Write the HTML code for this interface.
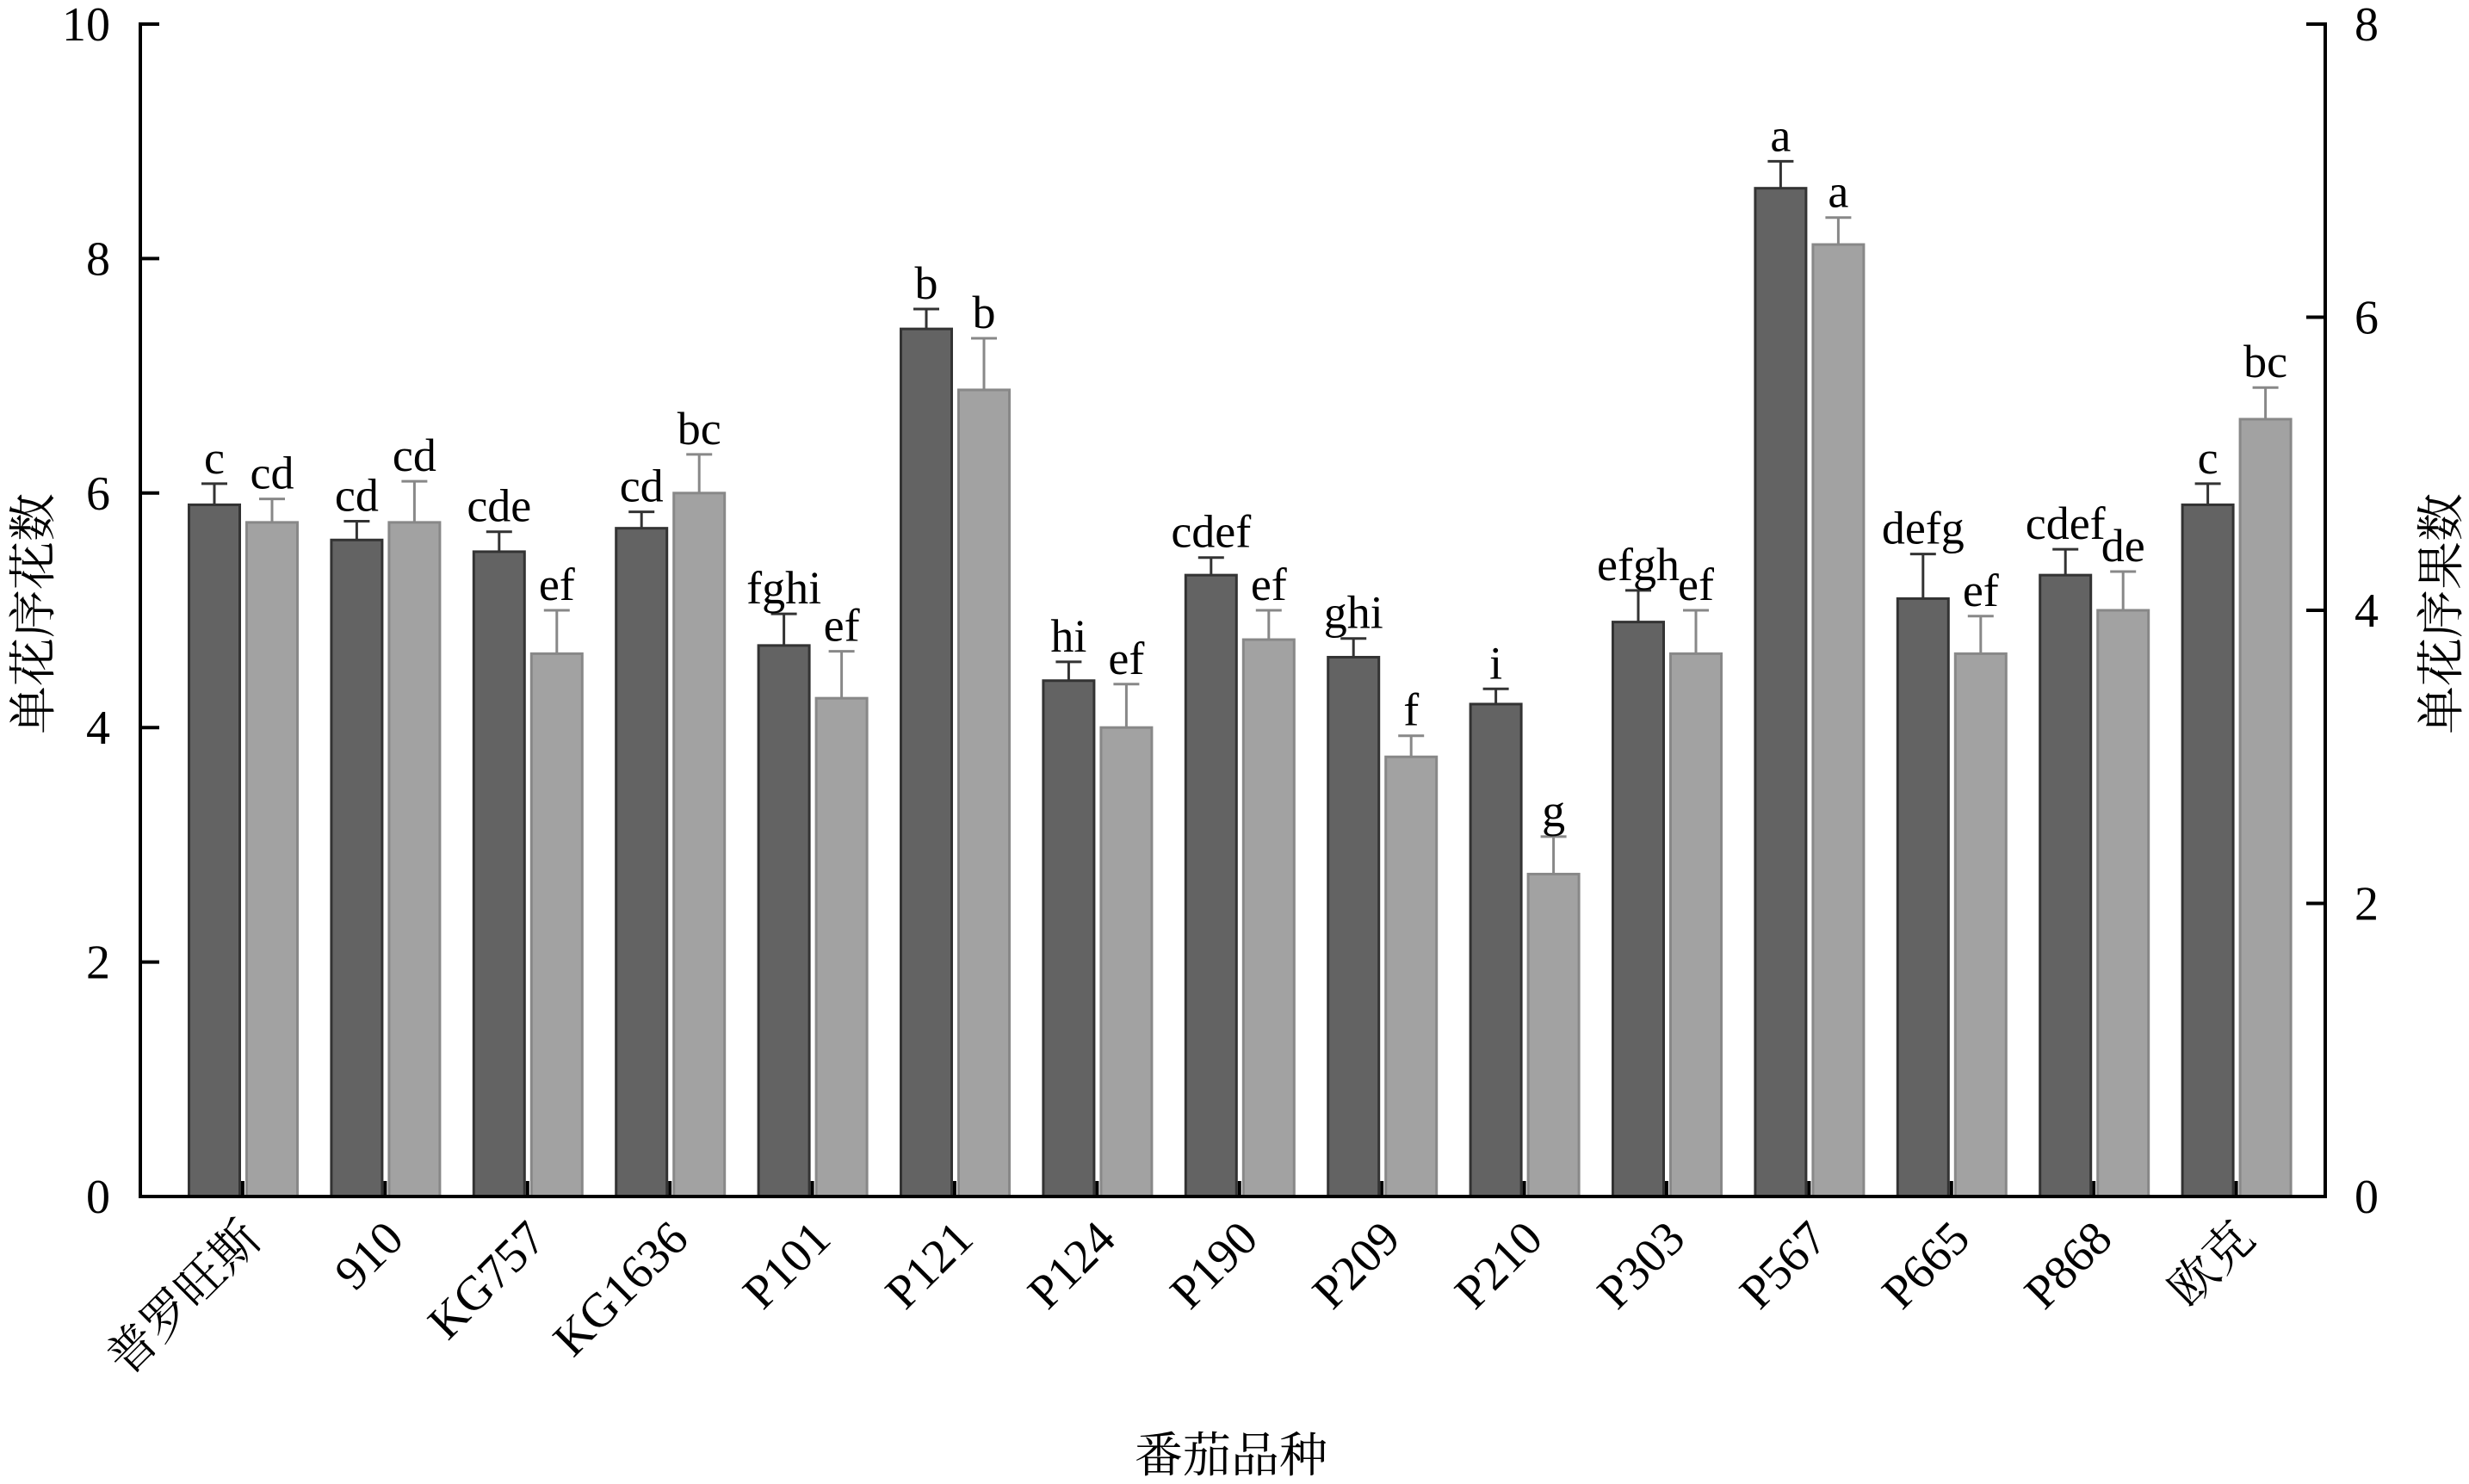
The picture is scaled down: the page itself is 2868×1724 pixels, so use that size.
<!DOCTYPE html>
<html><head><meta charset="utf-8"><style>html,body{margin:0;padding:0;background:#fff}svg{display:block}</style></head>
<body>
<svg id="s" xmlns="http://www.w3.org/2000/svg" width="2868" height="1724" viewBox="0 0 2868 1724" font-family="'Liberation Serif','Noto Serif CJK SC',serif"></svg>
<script>
const s=document.getElementById('s');
const y0=1390,u=136.2,L=163,R=2701;
const Y=v=>y0-v*u;
const names=['普罗旺斯','910','KG757','KG1636','P101','P121','P124','P190','P209','P210','P303','P567','P665','P868','欧克'];
const d=[5.9,5.6,5.5,5.7,4.7,7.4,4.4,5.3,4.6,4.2,4.9,8.6,5.1,5.3,5.9];
const de=[6.08,5.76,5.67,5.84,4.97,7.57,4.56,5.45,4.76,4.33,5.17,8.83,5.48,5.52,6.08];
const dl=['c','cd','cde','cd','fghi','b','hi','cdef','ghi','i','efgh','a','defg','cdef','c'];
const l=[5.75,5.75,4.63,6.0,4.25,6.88,4.0,4.75,3.75,2.75,4.63,8.12,4.63,5.0,6.63];
const le=[5.95,6.1,5.0,6.33,4.65,7.32,4.37,5.0,3.93,3.07,5.0,8.35,4.95,5.33,6.9];
const ll=['cd','cd','ef','bc','ef','b','ef','ef','f','g','ef','a','ef','de','bc'];
let h='';
for(let i=0;i<15;i++){
 const x=218+i*165.4;
 let cx=x+31;
 h+=`<line x1="${cx}" y1="${Y(de[i])}" x2="${cx}" y2="${Y(d[i])}" stroke="#333" stroke-width="3"/>`;
 h+=`<line x1="${cx-15}" y1="${Y(de[i])}" x2="${cx+15}" y2="${Y(de[i])}" stroke="#333" stroke-width="3"/>`;
 h+=`<rect x="${x+1.5}" y="${Y(d[i])}" width="59" height="${y0-Y(d[i])}" fill="#636363" stroke="#333" stroke-width="3"/>`;
 h+=`<text x="${cx}" y="${Y(de[i])-12}" font-size="54" text-anchor="middle">${dl[i]}</text>`;
 const x2=x+67; let cx2=x2+31;
 h+=`<line x1="${cx2}" y1="${Y(le[i])}" x2="${cx2}" y2="${Y(l[i])}" stroke="#888" stroke-width="3"/>`;
 h+=`<line x1="${cx2-15}" y1="${Y(le[i])}" x2="${cx2+15}" y2="${Y(le[i])}" stroke="#888" stroke-width="3"/>`;
 h+=`<rect x="${x2+1.5}" y="${Y(l[i])}" width="59" height="${y0-Y(l[i])}" fill="#a2a2a2" stroke="#888" stroke-width="3"/>`;
 h+=`<text x="${cx2}" y="${Y(le[i])-12}" font-size="54" text-anchor="middle">${ll[i]}</text>`;
 h+=`<line x1="${x+64}" y1="${y0}" x2="${x+64}" y2="${y0-18}" stroke="#000" stroke-width="4"/>`;
 const tx=x+88, ty=y0+52;
 h+=`<text x="${tx}" y="${ty}" font-size="56" text-anchor="end" transform="rotate(-45 ${tx} ${ty})">${names[i]}</text>`;
}
h+=`<path d="M${L+22} 28 H${L} V${y0} H${R} V28 H${R-22}" fill="none" stroke="#000" stroke-width="4"/>`;
for(let v=0;v<=10;v+=2){const y=Y(v);
 if(v>0&&v<10)h+=`<line x1="${L}" y1="${y}" x2="${L+22}" y2="${y}" stroke="#000" stroke-width="4"/>`;
 h+=`<text x="128" y="${y+19}" font-size="56" text-anchor="end">${v}</text>`;}
for(let v=0;v<=8;v+=2){const y=y0-v*170.25;
 if(v>0&&v<8)h+=`<line x1="${R-22}" y1="${y}" x2="${R}" y2="${y}" stroke="#000" stroke-width="4"/>`;
 h+=`<text x="2735" y="${y+19}" font-size="56">${v}</text>`;}
h+=`<text x="0" y="0" font-size="56" text-anchor="middle" transform="translate(58 713) rotate(-90)">单花序花数</text>`;
h+=`<text x="0" y="0" font-size="56" text-anchor="middle" transform="translate(2855 713) rotate(-90)">单花序果数</text>`;
h+=`<text x="1430" y="1710" font-size="56" text-anchor="middle">番茄品种</text>`;
s.innerHTML=h;
</script>
</body></html>
